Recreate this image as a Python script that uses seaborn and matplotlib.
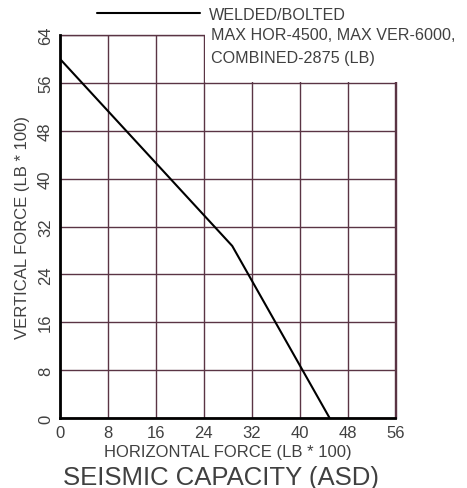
import numpy as np
import pandas as pd
import seaborn as sns
import matplotlib.pyplot as plt
from matplotlib.patches import Rectangle

# seismic capacity envelope (LB * 100)
horizontal = [0, 28.75, 45]
vertical = [60, 28.75, 0]
x_ticks = [0, 8, 16, 24, 32, 40, 48, 56]
y_ticks = [0, 8, 16, 24, 32, 40, 48, 56, 64]

data = pd.DataFrame({"HOR": horizontal, "VER": vertical})

sns.set_style("white")
plt.rcParams["font.family"] = ["Liberation Sans", "DejaVu Sans"]

grid_col = "#5a3444"
text_col = "#404040"

fig = plt.figure(figsize=(4.67, 4.89), dpi=100)
ax = fig.add_axes([60 / 467, 1 - 419 / 489, 335.5 / 467, 383 / 489])

sns.lineplot(data=data, x="HOR", y="VER", color="black", linewidth=1.5,
             label="WELDED/BOLTED", ax=ax, zorder=3, sort=False)

ax.set_xlim(0, 56)
ax.set_ylim(0, 64)
ax.set_xticks(x_ticks)
ax.set_yticks(y_ticks)
ax.grid(True, color=grid_col, linewidth=1.0)
ax.tick_params(length=0, labelsize=12, labelcolor=text_col)
ax.tick_params(axis="x", pad=5)
ax.tick_params(axis="y", pad=5)
for t in ax.get_yticklabels():
    t.set_rotation(90)
    t.set_va("center")

for s in ["top", "right"]:
    ax.spines[s].set_color(grid_col)
    ax.spines[s].set_linewidth(1.0)
for s in ["left", "bottom"]:
    ax.spines[s].set_color("black")
    ax.spines[s].set_linewidth(2.0)
    ax.spines[s].set_zorder(4)

# white area behind the legend text
ax.add_patch(Rectangle((24.15, 56.15), 40, 20, facecolor="white",
                       edgecolor="none", zorder=2.8, clip_on=False))

ax.set_xlabel("HORIZONTAL FORCE (LB * 100)", fontsize=12, color=text_col, labelpad=3)
ax.set_ylabel("VERTICAL FORCE (LB * 100)", fontsize=12, color=text_col, labelpad=6)

leg = ax.legend(loc="center left", bbox_to_anchor=(97 / 467, 1 - 15 / 489),
                bbox_transform=fig.transFigure, frameon=False, fontsize=11.6,
                handlelength=6.4, handletextpad=0.55, borderpad=0, borderaxespad=0)
for t in leg.get_texts():
    t.set_color(text_col)
fig.text(211 / 467, 1 - 36 / 489, "MAX HOR-4500, MAX VER-6000,", fontsize=11.6,
         color=text_col, va="center")
fig.text(211 / 467, 1 - 58 / 489, "COMBINED-2875 (LB)", fontsize=11.6,
         color=text_col, va="center")

fig.text(221 / 467, 1 - 485 / 489, "SEISMIC CAPACITY (ASD)", fontsize=18.5,
         color=text_col, ha="center", va="baseline")

fig.savefig("out.png", dpi=100)
